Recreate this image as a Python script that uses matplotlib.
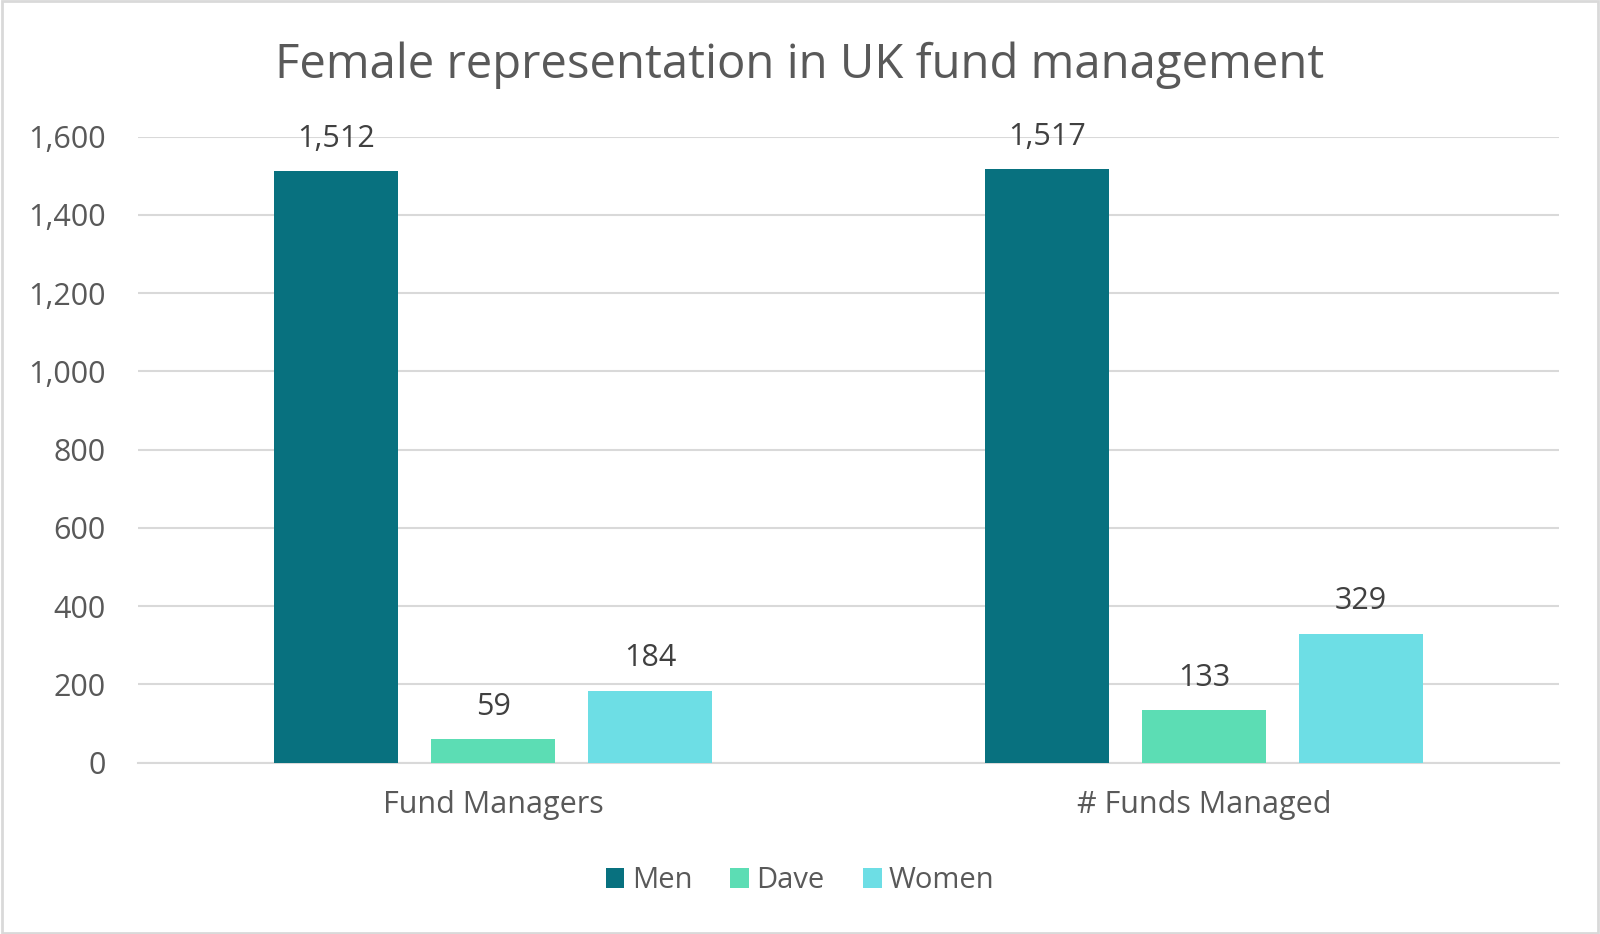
import matplotlib
matplotlib.use("Agg")
import matplotlib.pyplot as plt
from matplotlib.patches import Rectangle
import numpy as np

# chart data
categories = ["Fund Managers", "# Funds Managed"]
series_names = ["Men", "Dave", "Women"]
men = [1512, 1517]
dave = [59, 133]
women = [184, 329]
y_ticks = [0, 200, 400, 600, 800, 1000, 1200, 1400, 1600]

colors = ["#08717F", "#5CDDB4", "#6DDEE5"]
text_color = "#595959"

plt.rcParams["font.family"] = ["Open Sans", "DejaVu Sans"]

fig = plt.figure(figsize=(16, 9.34), dpi=100)
ax = fig.add_axes([0.0861, 0.1836, 0.8884, 0.67])

x = np.arange(len(categories))
width = 0.174
step = 0.221
for i, (name, vals) in enumerate(zip(series_names, [men, dave, women])):
    pos = x + (i - 1) * step
    bars = ax.bar(pos, vals, width, color=colors[i], label=name, zorder=3)
    for b, v in zip(bars, vals):
        ax.text(b.get_x() + b.get_width() / 2, v + 45, f"{v:,}",
                ha="center", va="bottom", fontsize=22, color="#404040",
                clip_on=False)

ax.set_xlim(-0.5, 1.5)
ax.set_ylim(0, 1600)
ax.set_yticks(y_ticks)
ax.set_yticklabels([f"{t:,}" for t in y_ticks])
ax.set_xticks(x)
ax.set_xticklabels(categories)
ax.tick_params(axis="both", length=0, labelsize=22, colors=text_color)
ax.tick_params(axis="y", pad=23)
ax.tick_params(axis="x", pad=20)
ax.grid(axis="y", color="#D9D9D9", linewidth=1.5, zorder=0)
for s in ["top", "right", "left"]:
    ax.spines[s].set_visible(False)
ax.spines["bottom"].set_color("#D9D9D9")
ax.spines["bottom"].set_linewidth(1.5)

fig.suptitle("Female representation in UK fund management", y=0.956,
             fontsize=34, color=text_color)

fig.legend(loc="center", bbox_to_anchor=(0.5, 0.057), ncol=3, frameon=False,
           fontsize=21, labelcolor=text_color, handlelength=0.65,
           handleheight=0.65, handletextpad=0.25, columnspacing=1.3)

fig.patches.append(Rectangle((0.001, 0.001), 0.998, 0.998, transform=fig.transFigure,
                             fill=False, edgecolor="#D9D9D9", linewidth=2))

fig.savefig("out.png", dpi=100, facecolor="white")
